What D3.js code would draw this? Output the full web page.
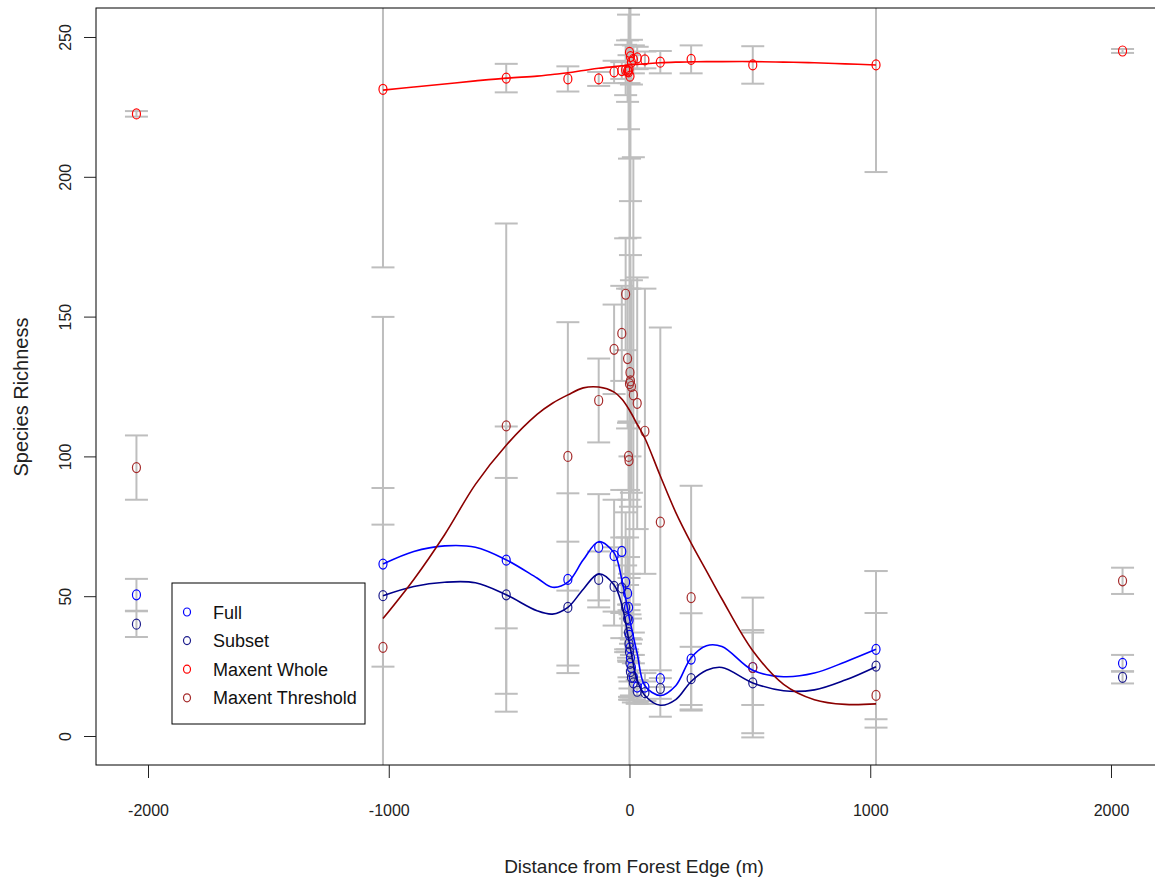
<!DOCTYPE html>
<html>
<head>
<meta charset="utf-8">
<script src="https://cdnjs.cloudflare.com/ajax/libs/d3/7.8.5/d3.min.js"></script>
<style>
    body { margin: 0; background: #fff; }
    text { font-family: "Liberation Sans", Arial, sans-serif; }
</style>
</head>
<body>
<svg id="chart" width="1155" height="883"></svg>
<script>
// distances from the forest edge (m) where richness was sampled
var distances = [-2048, -1024, -512, -256, -128, -64, -32, -16, -8, -4, -2, 0,
    2, 4, 8, 16, 32, 64, 128, 256, 512, 1024, 2048];

var fullMean = [50.5, 61.5, 62.9, 56, 67.5, 64.5, 66, 55, 51, 46, 41.5, 36,
    31.5, 28, 24.5, 21, 17.5, 17.5, 20.5, 27.5, 24.5, 31, 26];
var fullErr = [5.7, 88.4, 47.8, 30.8, 19, 20, 22, 25, 20, 18, 15, 22,
    12, 14, 10, 8, 6, 5, 3, 16.4, 13.4, 28, 3];

var subsetMean = [40, 50.2, 50.5, 46, 56, 53.5, 53, 46, 42, 37, 33, 30,
    26, 23, 21, 19, 16, 15.5, 17, 20.5, 19, 25, 21];
var subsetErr = [4.6, 25.4, 41.8, 23.5, 10, 14, 18, 15, 12, 10, 12, 17,
    9, 10, 8, 7, 4, 4, 3.7, 11.4, 18, 19, 2.2];

var wholeMean = [222.5, 231.3, 235.3, 235, 235, 237.5, 238, 238.2, 237.8, 237.5, 238.5, 244.5,
    236, 243, 241, 242, 242.5, 241.8, 241, 242, 240, 240, 245];
var wholeErr = [1, 63.7, 5.1, 4.5, 2.5, 4, 3, 9, 11, 20.5, 5, 38,
    57.8, 51.7, 8, 5, 4, 3, 4, 5, 6.7, 38.3, 0.7];

var threshMean = [96, 31.7, 110.9, 100, 120, 138.3, 144, 158, 135, 100, 98.5, 126,
    130, 127, 125, 122, 119, 109, 76.5, 49.5, 24.5, 14.5, 55.5];
var threshErr = [11.5, 57, 72.4, 48, 15, 16, 17, 20, 25, 12, 14, 150,
    30, 45, 38, 85, 45, 51, 69.6, 40, 25, 44.5, 4.7];

// smoothed fits
var fitX = [-1024, -896, -768, -640, -512, -384, -320, -256, -192, -128, -64, -32, 0,
    32, 64, 128, 192, 256, 320, 384, 512, 640, 768, 896, 1024];
var fullFit = [61.5, 66, 68, 67.5, 63, 56.5, 53.2, 55, 63, 69.5, 65.5, 56, 42,
    29.5, 18, 14.5, 18, 28, 32.3, 32, 23.5, 21.2, 22.5, 26.5, 31];
var subsetFit = [50.2, 53.5, 55, 54.8, 50.5, 44.8, 43.6, 46, 52.5, 58, 54, 47, 33,
    20, 14.5, 11, 13, 19.5, 23.5, 24.5, 19, 16.2, 16.5, 20, 24.8];
var wholeFit = [231, 232.1, 233.2, 234.3, 235.3, 236, 236.6, 237.2, 238, 238.8, 239.4, 239.7, 240,
    240.2, 240.4, 240.8, 241, 241.1, 241.2, 241.2, 241.2, 241, 240.8, 240.4, 240];
var threshFit = [42, 56, 72, 90, 104, 115, 119, 122, 124.5, 124.8, 123, 120.5, 116.5,
    111.5, 106.5, 93, 80, 69, 59, 49, 30.5, 18.5, 13, 11.3, 11.5];

var xTicks = [-2000, -1000, 0, 1000, 2000];
var yTicks = [0, 50, 100, 150, 200, 250];
var seriesNames = ['Full', 'Subset', 'Maxent Whole', 'Maxent Threshold'];

(function () {
    var svg = d3.select('#chart');
    var plotLeft = 96, plotTop = 8, plotBottom = 765, plotRight = 1163;

    var x = d3.scaleLinear().domain([-2216, 2216]).range([plotLeft, plotRight]);
    var y = d3.scaleLinear().domain([-10.37, 260.37]).range([plotBottom, plotTop]);

    var series = [
        { mean: fullMean, err: fullErr, fit: fullFit, point: '#0000FF', line: '#0000FF' },
        { mean: subsetMean, err: subsetErr, fit: subsetFit, point: '#1C1C8C', line: '#00008B' },
        { mean: wholeMean, err: wholeErr, fit: wholeFit, point: '#FF0000', line: '#FF0000' },
        { mean: threshMean, err: threshErr, fit: threshFit, point: '#A52A2A', line: '#8B0000' }
    ];

    svg.append('clipPath').attr('id', 'plotClip')
        .append('rect')
        .attr('x', plotLeft).attr('y', plotTop)
        .attr('width', plotRight - plotLeft).attr('height', plotBottom - plotTop);

    var plot = svg.append('g').attr('clip-path', 'url(#plotClip)');

    // error bars first so points and fits sit on top
    var capHalf = 11.5;
    series.forEach(function (s) {
        var bars = plot.append('g')
            .attr('stroke', '#BEBEBE')
            .attr('stroke-width', 2)
            .attr('fill', 'none');
        distances.forEach(function (d, i) {
            var cx = x(d);
            var lo = y(s.mean[i] - s.err[i]);
            var hi = y(s.mean[i] + s.err[i]);
            bars.append('line').attr('x1', cx).attr('x2', cx).attr('y1', lo).attr('y2', hi);
            bars.append('line').attr('x1', cx - capHalf).attr('x2', cx + capHalf).attr('y1', lo).attr('y2', lo);
            bars.append('line').attr('x1', cx - capHalf).attr('x2', cx + capHalf).attr('y1', hi).attr('y2', hi);
        });
    });

    // open circles
    series.forEach(function (s) {
        plot.append('g').selectAll('ellipse')
            .data(distances)
            .enter().append('ellipse')
            .attr('cx', function (d) { return x(d); })
            .attr('cy', function (d, i) { return y(s.mean[i]); })
            .attr('rx', 4)
            .attr('ry', 5)
            .attr('fill', 'none')
            .attr('stroke', s.point)
            .attr('stroke-width', 1.2);
    });

    // smoothed fits
    var fitLine = d3.line()
        .x(function (d) { return x(d[0]); })
        .y(function (d) { return y(d[1]); })
        .curve(d3.curveCatmullRom.alpha(0.5));

    series.forEach(function (s) {
        plot.append('path')
            .datum(d3.zip(fitX, s.fit))
            .attr('d', fitLine)
            .attr('fill', 'none')
            .attr('stroke', s.line)
            .attr('stroke-width', 1.6);
    });

    // frame
    svg.append('rect')
        .attr('x', plotLeft).attr('y', plotTop)
        .attr('width', plotRight - plotLeft).attr('height', plotBottom - plotTop)
        .attr('fill', 'none')
        .attr('stroke', '#000')
        .attr('stroke-width', 1);

    // axes, R style plain hyphen labels
    var plainFormat = function (d) { return String(d); };

    var xAxis = svg.append('g')
        .attr('transform', 'translate(0,' + plotBottom + ')')
        .call(d3.axisBottom(x).tickValues(xTicks).tickSize(13).tickPadding(27)
            .tickFormat(plainFormat));
    xAxis.select('.domain').remove();
    xAxis.selectAll('text').attr('font-size', 16).attr('fill', '#222')
        .attr('font-family', '"Liberation Sans", Arial, sans-serif');
    xAxis.selectAll('line').attr('stroke', '#222');

    var yAxis = svg.append('g')
        .attr('transform', 'translate(' + plotLeft + ',0)')
        .call(d3.axisLeft(y).tickValues(yTicks).tickSize(12).tickFormat(plainFormat));
    yAxis.select('.domain').remove();
    yAxis.selectAll('line').attr('stroke', '#222');
    yAxis.selectAll('text')
        .attr('font-size', 16).attr('fill', '#222')
        .attr('font-family', '"Liberation Sans", Arial, sans-serif')
        .attr('text-anchor', 'middle')
        .attr('x', null).attr('dy', null).attr('y', null)
        .attr('transform', 'translate(-25,0) rotate(-90)');

    svg.append('text')
        .attr('x', 634).attr('y', 873)
        .attr('text-anchor', 'middle')
        .attr('font-size', 19)
        .attr('fill', '#222')
        .text('Distance from Forest Edge (m)');

    svg.append('text')
        .attr('transform', 'translate(28,397) rotate(-90)')
        .attr('text-anchor', 'middle')
        .attr('font-size', 20)
        .attr('fill', '#222')
        .text('Species Richness');

    // legend
    var legend = svg.append('g').attr('transform', 'translate(172,583)');
    legend.append('rect')
        .attr('width', 193).attr('height', 141)
        .attr('fill', '#fff').attr('stroke', '#000').attr('stroke-width', 1);
    seriesNames.forEach(function (name, i) {
        var ly = 29 + i * 28.6;
        legend.append('ellipse')
            .attr('cx', 15).attr('cy', ly)
            .attr('rx', 3.5).attr('ry', 4)
            .attr('fill', 'none')
            .attr('stroke', series[i].point)
            .attr('stroke-width', 1.2);
        legend.append('text')
            .attr('x', 41).attr('y', ly + 6.5)
            .attr('font-size', 18)
            .attr('fill', '#111')
            .text(name);
    });
})();
</script>
</body>
</html>
